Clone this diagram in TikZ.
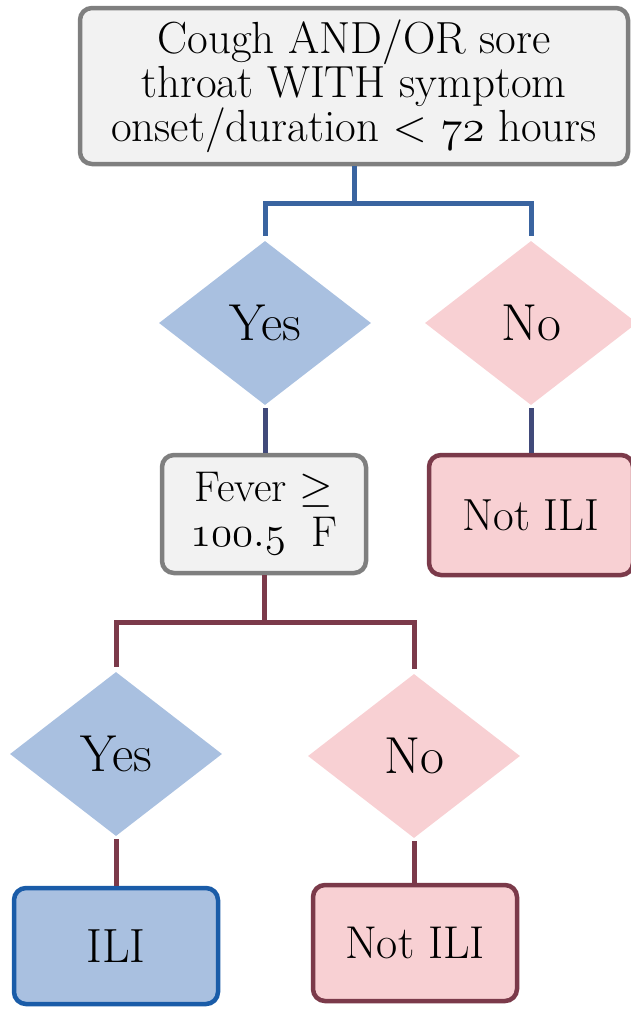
\RequirePackage{fix-cm}
\documentclass[tikz,border=0pt]{standalone}
\usepackage{fontspec}
\usetikzlibrary{shapes.geometric}
\newcommand\osnum[1]{$\mathnormal{#1}$}
\definecolor{boxgray}{HTML}{7F7F7F}
\definecolor{boxfill}{HTML}{F2F2F2}
\definecolor{linkblue}{HTML}{3A64A0}
\definecolor{linknavy}{HTML}{414A7A}
\definecolor{maroon}{HTML}{7B3A4A}
\definecolor{yesfill}{HTML}{A9C0E0}
\definecolor{nofill}{HTML}{F8D0D3}
\definecolor{iliblue}{HTML}{1A5CA8}
\tikzset{
  qbox/.style={rectangle, rounded corners=12pt, draw=boxgray, fill=boxfill, line width=4.5pt, align=center, inner sep=0pt, font=\fontsize{45}{44}\selectfont},
  nobox/.style={rectangle, rounded corners=12pt, draw=maroon, fill=nofill, line width=4.5pt, align=center, inner sep=0pt, minimum width=204pt, font=\fontsize{45}{44}\selectfont},
  ilibox/.style={rectangle, rounded corners=12pt, draw=iliblue, fill=yesfill, line width=4.5pt, align=center, inner sep=0pt, minimum width=204pt, font=\fontsize{48}{46}\selectfont},
  ydia/.style={diamond, fill=yesfill, inner sep=0pt, minimum width=212pt, minimum height=164pt, font=\fontsize{52}{50}\selectfont},
  ndia/.style={diamond, fill=nofill, inner sep=0pt, minimum width=212pt, minimum height=164pt, font=\fontsize{52}{50}\selectfont},
  link/.style={line width=5pt},
}
\begin{document}
\begin{tikzpicture}[x=1pt,y=-1pt]
\useasboundingbox (0,0) rectangle (631,1009);
\clip (0,0) rectangle (631,1009);
\node[qbox, minimum width=548pt, minimum height=156pt] (top) at (354,86)
  {Cough AND/OR sore\\throat WITH symptom\\onset/duration $<$ \osnum{72} hours};
\node[ydia] (yes1) at (265,323) {Yes};
\node[ndia] (no1) at (531,323) {No};
\node[qbox, minimum width=204pt, minimum height=118pt, font=\fontsize{43}{45}\selectfont] (fever) at (264,514)
  {Fever $\geq$\\\osnum{100.5}~~F};
\node[nobox, minimum height=120pt] (notili1) at (531,515) {Not ILI};
\node[ydia] (yes2) at (116,754) {Yes};
\node[ndia] (no2) at (414,756) {No};
\node[ilibox, minimum height=116pt] (ili) at (116,946) {ILI};
\node[nobox, minimum height=116pt, font=\fontsize{46}{46}\selectfont] (notili2) at (415,943) {Not ILI};
\coordinate (j1) at (354,203);
\coordinate (j2) at (264,622);
\draw[link, linkblue] (top.south) -- (j1);
\draw[link, linkblue, shorten >=5pt] (j1) -| (yes1.north);
\draw[link, linkblue, shorten >=5pt] (j1) -| (no1.north);
\draw[link, linknavy, shorten <=3pt] (yes1.south) -- (yes1.south |- fever.north);
\draw[link, linknavy, shorten <=3pt] (no1.south) -- (no1.south |- notili1.north);
\draw[link, maroon] (fever.south) -- (j2);
\draw[link, maroon, shorten >=5pt] (j2) -| (yes2.north);
\draw[link, maroon, shorten >=5pt] (j2) -| (no2.north);
\draw[link, maroon, shorten <=3pt] (yes2.south) -- (yes2.south |- ili.north);
\draw[link, maroon, shorten <=3pt] (no2.south) -- (no2.south |- notili2.north);
\end{tikzpicture}
\end{document}
